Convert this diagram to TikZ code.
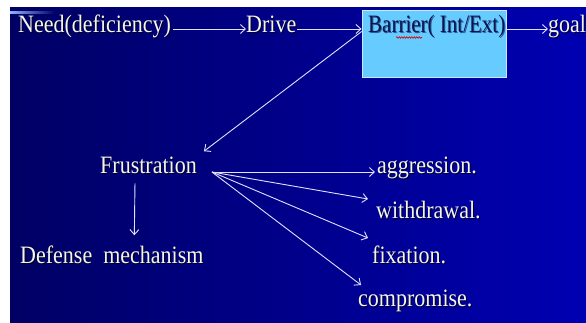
\documentclass[tikz,border=0pt]{standalone}
\usepackage{fontspec}
\setmainfont{Liberation Serif}[FakeStretch=0.88]
\newfontfamily\barfont{Liberation Serif}[FakeStretch=0.84]
\usetikzlibrary{arrows.meta,decorations.pathmorphing}
\definecolor{bgl}{RGB}{0,0,100}
\definecolor{bgr}{RGB}{0,0,178}
\definecolor{streak}{RGB}{140,180,255}
\definecolor{boxfill}{RGB}{102,204,255}
\definecolor{boxline}{RGB}{200,235,255}
\definecolor{linec}{RGB}{225,225,255}
\definecolor{txt}{RGB}{245,245,240}
\definecolor{shad}{RGB}{0,0,30}
\definecolor{bartxt}{RGB}{10,20,80}
\newcommand\shtxt[2]{\makebox[0pt][l]{\kern1pt\raisebox{-1pt}{\color{#2}#1}}#1}
\begin{document}
\begin{tikzpicture}[x=1pt,y=-1pt,
  lbl/.style={anchor=base west,inner sep=0pt,text=txt,font=\fontsize{25}{29}\selectfont},
  arr/.style={draw=linec,line width=0.9pt,-{Straight Barb[length=5pt,width=9pt]}},
  barbox/.style={draw=boxline,line width=0.8pt,fill=boxfill,minimum width=144pt,minimum height=67pt,inner sep=0pt},
  bartextstyle/.style={anchor=base west,inner sep=0pt,text=bartxt,font=\barfont\fontsize{25}{29}\selectfont}]
\useasboundingbox (0,0) rectangle (586,322);
\fill[white] (0,0) rectangle (586,322);
\shade[left color=bgl,right color=bgr] (10,7) rectangle (586,322);
\shade[left color=streak,right color=bgl] (10,11) rectangle (55,13);

% nodes
\node[lbl] (need) at (18,32) {\shtxt{Need(deficiency)}{shad}};
\node[lbl] (drive) at (246,32) {\shtxt{Drive}{shad}};
\node[barbox] (barrier) at (434,43.5) {};
\node[bartextstyle] (bartext) at (368,32) {\shtxt{Barrier( Int/Ext)}{bartxt!60!boxfill}};
\node[lbl] (goal) at (548,32) {\shtxt{goal}{shad}};
\node[lbl] (frus) at (100,173) {\shtxt{Frustration}{shad}};
\node[lbl] (defense) at (20,263) {\shtxt{Defense\ \ mechanism}{shad}};
\node[lbl] (aggr) at (377,173) {\shtxt{aggression.}{shad}};
\node[lbl] (withd) at (376,218) {\shtxt{withdrawal.}{shad}};
\node[lbl] (fix) at (372,263) {\shtxt{fixation.}{shad}};
\node[lbl] (comp) at (358,306) {\shtxt{compromise.}{shad}};

% spell-check squiggle under "Int"
\draw[red!85!black,line width=0.6pt,decorate,decoration={snake,amplitude=0.8pt,segment length=2.5pt}] (396,37.5) -- (422,37.5);

% connectors
\draw[arr] ([xshift=2pt,yshift=3pt]need.base east) -- ([yshift=3pt]drive.base west);
\draw[arr] ([xshift=1pt,yshift=3pt]drive.base east) -- ([yshift=14.5pt]barrier.west);
\draw[arr] ([yshift=14.5pt]barrier.east) -- ([yshift=3pt]goal.base west);
\draw[arr] ([yshift=12pt]barrier.west) -- ([xshift=7pt,yshift=5pt]frus.north east);
\draw[arr] ([xshift=-13.5pt,yshift=-9pt]frus.south) -- ([xshift=22.5pt,yshift=10pt]defense.north);
\coordinate (fan) at ([xshift=15pt,yshift=1pt]frus.base east);
\draw[arr] (fan) -- ([xshift=-2pt,yshift=1pt]aggr.base west);
\draw[arr] (fan) -- ([xshift=-8pt,yshift=19pt]withd.base west);
\draw[arr] (fan) -- ([xshift=-4pt,yshift=25pt]fix.base west);
\draw[arr] (fan) -- ([xshift=3pt,yshift=21pt]comp.base west);
\end{tikzpicture}
\end{document}
